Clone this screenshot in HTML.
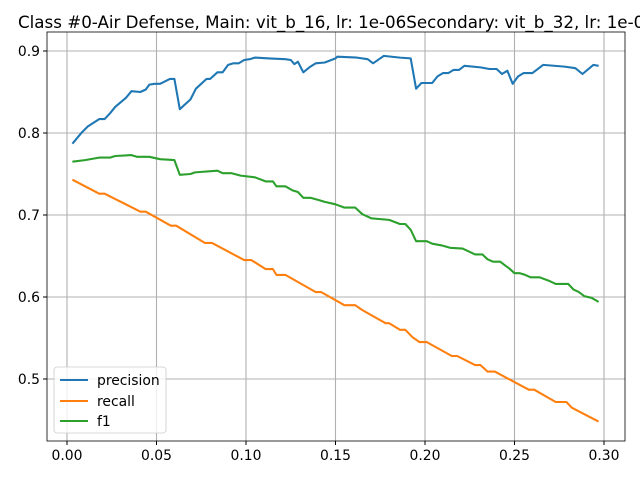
<!DOCTYPE html>
<html><head><meta charset="utf-8"><style>
html,body{margin:0;padding:0;background:#fff;}
svg{display:block;font-family:"DejaVu Sans","Liberation Sans",sans-serif;}
</style></head><body>
<svg id="chart" width="640" height="480" viewBox="0 0 640 480">
<rect width="640" height="480" fill="#fff"/>
<text x="18" y="28" font-size="16.7" fill="#000">Class #0-Air Defense, Main: vit_b_16, lr: 1e-06Secondary: vit_b_32, lr: 1e-06</text>
<g id="grid"></g>
<g id="series"></g>
<rect x="47" y="32" width="578" height="409" fill="none" stroke="#000" stroke-width="0.8"/>
<g id="ticks"></g>
<g>
<rect x="54" y="367" width="112" height="66" rx="3" fill="#fff" fill-opacity="0.8" stroke="#ccc" stroke-width="0.8"/>
<g><line x1="60" y1="380" x2="88" y2="380" stroke="#1f77b4" stroke-width="2.08"/><text x="97" y="385" font-size="13.9">precision</text></g>
<g><line x1="60" y1="401" x2="88" y2="401" stroke="#ff7f0e" stroke-width="2.08"/><text x="97" y="406" font-size="13.9">recall</text></g>
<g><line x1="60" y1="421" x2="88" y2="421" stroke="#2ca02c" stroke-width="2.08"/><text x="97" y="426" font-size="13.9">f1</text></g>
</g>
</svg>
<script>
const xTicks = [0.00, 0.05, 0.10, 0.15, 0.20, 0.25, 0.30];
const xTickLabels = ["0.00", "0.05", "0.10", "0.15", "0.20", "0.25", "0.30"];
const yTicks = [0.5, 0.6, 0.7, 0.8, 0.9];
const yTickLabels = ["0.5", "0.6", "0.7", "0.8", "0.9"];
const precisionX = [0.003,0.0084,0.0117,0.018,0.021,0.024,0.027,0.033,0.036,0.041,0.044,0.046,0.049,0.052,0.0575,0.060,0.063,0.069,0.072,0.078,0.080,0.084,0.087,0.090,0.093,0.096,0.099,0.102,0.105,0.113,0.122,0.125,0.127,0.129,0.132,0.136,0.139,0.144,0.150,0.151,0.162,0.168,0.171,0.177,0.186,0.192,0.195,0.198,0.204,0.207,0.210,0.213,0.216,0.219,0.222,0.231,0.236,0.240,0.243,0.246,0.249,0.252,0.255,0.260,0.266,0.278,0.284,0.288,0.294,0.297];
const precisionY = [0.787,0.801,0.808,0.817,0.817,0.824,0.832,0.843,0.851,0.850,0.853,0.859,0.860,0.860,0.866,0.866,0.829,0.841,0.854,0.866,0.866,0.874,0.874,0.883,0.885,0.885,0.889,0.890,0.892,0.891,0.890,0.889,0.884,0.887,0.874,0.881,0.885,0.886,0.891,0.893,0.892,0.890,0.885,0.894,0.892,0.891,0.854,0.861,0.861,0.869,0.873,0.873,0.877,0.877,0.882,0.880,0.878,0.878,0.872,0.876,0.860,0.869,0.873,0.873,0.883,0.881,0.879,0.872,0.883,0.882];
const recallX = [0.003,0.018,0.021,0.041,0.044,0.058,0.061,0.077,0.081,0.099,0.103,0.111,0.115,0.117,0.122,0.139,0.142,0.155,0.161,0.165,0.178,0.180,0.186,0.189,0.193,0.197,0.201,0.215,0.218,0.228,0.231,0.235,0.239,0.258,0.261,0.273,0.279,0.282,0.297];
const recallY = [0.743,0.726,0.726,0.704,0.704,0.687,0.687,0.666,0.666,0.645,0.645,0.634,0.634,0.627,0.627,0.606,0.606,0.590,0.590,0.584,0.568,0.568,0.560,0.560,0.551,0.545,0.545,0.528,0.528,0.517,0.517,0.509,0.509,0.487,0.487,0.472,0.472,0.465,0.448];
const f1X = [0.003,0.010,0.018,0.024,0.027,0.036,0.039,0.046,0.052,0.060,0.063,0.069,0.0715,0.084,0.087,0.092,0.097,0.105,0.111,0.115,0.117,0.122,0.126,0.129,0.132,0.136,0.141,0.144,0.150,0.155,0.161,0.165,0.170,0.175,0.180,0.186,0.189,0.192,0.195,0.201,0.204,0.209,0.214,0.221,0.225,0.228,0.232,0.235,0.238,0.242,0.245,0.247,0.250,0.253,0.256,0.259,0.264,0.269,0.273,0.280,0.283,0.286,0.289,0.293,0.297];
const f1Y = [0.765,0.767,0.770,0.770,0.772,0.773,0.771,0.771,0.768,0.767,0.749,0.750,0.752,0.754,0.751,0.751,0.748,0.746,0.741,0.741,0.735,0.735,0.730,0.728,0.721,0.721,0.718,0.716,0.713,0.709,0.709,0.701,0.696,0.695,0.694,0.689,0.689,0.682,0.668,0.668,0.665,0.663,0.660,0.659,0.655,0.652,0.652,0.646,0.643,0.643,0.638,0.635,0.629,0.629,0.627,0.624,0.624,0.620,0.616,0.616,0.609,0.606,0.601,0.599,0.594];

const NS = "http://www.w3.org/2000/svg";
function sx(v){ return 67 + v * 1790; }
function sy(v){ return 51 + (0.9 - v) * 820; }
const grid = document.getElementById('grid');
const ticks = document.getElementById('ticks');
xTicks.forEach((t, i) => {
  const g = document.createElementNS(NS, 'line');
  g.setAttribute('x1', sx(t)); g.setAttribute('x2', sx(t));
  g.setAttribute('y1', 32); g.setAttribute('y2', 441);
  g.setAttribute('stroke', '#b0b0b0'); g.setAttribute('stroke-width', '1.1');
  
  
  grid.appendChild(g);
  const tk = document.createElementNS(NS, 'line');
  tk.setAttribute('x1', sx(t)); tk.setAttribute('x2', sx(t));
  tk.setAttribute('y1', 441); tk.setAttribute('y2', 445);
  tk.setAttribute('stroke', '#000'); tk.setAttribute('stroke-width', '1');
  
  
  ticks.appendChild(tk);
  const tx = document.createElementNS(NS, 'text');
  tx.setAttribute('x', sx(t)); tx.setAttribute('y', 460);
  tx.setAttribute('text-anchor', 'middle'); tx.setAttribute('font-size', '13.9');
  tx.textContent = xTickLabels[i];
  
  
  ticks.appendChild(tx);
});
yTicks.forEach((t, i) => {
  const g = document.createElementNS(NS, 'line');
  g.setAttribute('x1', 47); g.setAttribute('x2', 625);
  g.setAttribute('y1', sy(t)); g.setAttribute('y2', sy(t));
  g.setAttribute('stroke', '#b0b0b0'); g.setAttribute('stroke-width', '1.1');
  
  
  grid.appendChild(g);
  const tk = document.createElementNS(NS, 'line');
  tk.setAttribute('x1', 43); tk.setAttribute('x2', 47);
  tk.setAttribute('y1', sy(t)); tk.setAttribute('y2', sy(t));
  tk.setAttribute('stroke', '#000'); tk.setAttribute('stroke-width', '1');
  
  
  ticks.appendChild(tk);
  const tx = document.createElementNS(NS, 'text');
  tx.setAttribute('x', 40); tx.setAttribute('y', sy(t) + 5);
  tx.setAttribute('text-anchor', 'end'); tx.setAttribute('font-size', '13.9');
  tx.textContent = yTickLabels[i];
  
  
  ticks.appendChild(tx);
});
const series = document.getElementById('series');
function drawLine(xs, ys, color, name){
  const p = document.createElementNS(NS, 'polyline');
  p.setAttribute('points', xs.map((x, i) => sx(x).toFixed(1) + ',' + sy(ys[i]).toFixed(1)).join(' '));
  p.setAttribute('fill', 'none'); p.setAttribute('stroke', color);
  p.setAttribute('stroke-width', '2.08'); p.setAttribute('stroke-linejoin', 'round');
  
  
  series.appendChild(p);
}
drawLine(precisionX, precisionY, '#1f77b4', 'precision-line');
drawLine(recallX, recallY, '#ff7f0e', 'recall-line');
drawLine(f1X, f1Y, '#2ca02c', 'f1-line');
</script>
</body></html>
